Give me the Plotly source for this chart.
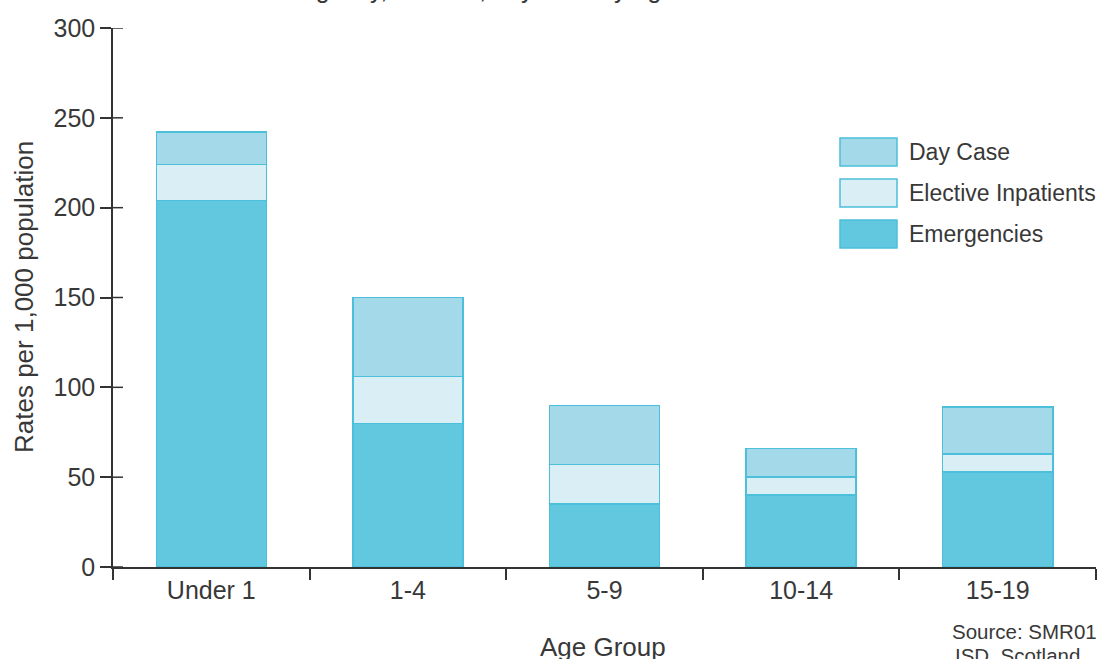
import plotly.graph_objects as go

categories = ["Under 1", "1-4", "5-9", "10-14", "15-19"]
emergencies = [204, 80, 35, 40, 53]
elective = [20, 26, 22, 10, 10]
day_case = [18, 44, 33, 16, 26]
series_names = ["Day Case", "Elective Inpatients", "Emergencies"]
y_ticks = [0, 50, 100, 150, 200, 250, 300]

W, H = 1099, 659
L, R, T, B = 113, 3, 28, 92
PW, PH = W - L - R, H - T - B

def px(x):
    return (x - L) / PW

def py(y):
    return (H - B - y) / PH

C_EM = "#62c8df"
C_EL = "#d9eff5"
C_DC = "#a3d9e8"
C_LINE = "#4cbfda"
TXT = "#383838"
FONT = "Liberation Sans"

fig = go.Figure()
for name, vals, col in [("Emergencies", emergencies, C_EM),
                        ("Elective Inpatients", elective, C_EL),
                        ("Day Case", day_case, C_DC)]:
    fig.add_trace(go.Bar(x=categories, y=vals, name=name, width=0.56,
                         marker=dict(color=col, line=dict(color=C_LINE, width=1.5)),
                         showlegend=False))

fig.update_layout(
    width=W, height=H, barmode="stack",
    margin=dict(l=L, r=R, t=T, b=B, pad=0),
    plot_bgcolor="white", paper_bgcolor="white",
    font=dict(family=FONT, color=TXT, size=25),
    xaxis=dict(type="category", tickson="boundaries", ticks="outside", ticklen=11,
               tickcolor="#333", tickwidth=1.5, showline=True, linecolor="#333",
               linewidth=1.5, showgrid=False, tickfont=dict(size=25, color=TXT),
               range=[-0.5, 4.5]),
    yaxis=dict(range=[0, 300], tickvals=y_ticks, ticks="outside", ticklen=11,
               tickcolor="#333", tickwidth=1.5, showline=True, linecolor="#333",
               linewidth=1.5, showgrid=False, zeroline=False,
               tickfont=dict(size=25, color=TXT)),
)

# right half of crossing y ticks
for v in y_ticks:
    fig.add_shape(type="line", xref="paper", yref="y", x0=0, x1=px(123), y0=v, y1=v,
                  line=dict(color="#333", width=1.5))

# custom legend
legend_colors = {"Day Case": C_DC, "Elective Inpatients": C_EL, "Emergencies": C_EM}
for i, name in enumerate(series_names):
    cy = 152 + 41 * i
    fig.add_shape(type="rect", xref="paper", yref="paper",
                  x0=px(840), x1=px(897), y0=py(cy - 14), y1=py(cy + 14),
                  fillcolor=legend_colors[name], line=dict(color=C_LINE, width=1.5))
    fig.add_annotation(xref="paper", yref="paper", x=px(907), y=py(cy), text=name,
                       showarrow=False, xanchor="left", yanchor="middle",
                       font=dict(size=23, color=TXT))

# axis titles
fig.add_annotation(xref="paper", yref="paper", x=px(603), y=py(647), text="Age Group",
                   showarrow=False, xanchor="center", yanchor="middle",
                   font=dict(size=26, color=TXT))
fig.add_annotation(xref="paper", yref="paper", x=px(24), y=py(297),
                   text="Rates per 1,000 population", textangle=-90,
                   showarrow=False, xanchor="center", yanchor="middle",
                   font=dict(size=26, color=TXT))

# source
fig.add_annotation(xref="paper", yref="paper", x=px(1099), y=py(631), text="Source: SMR01",
                   showarrow=False, xanchor="right", yanchor="middle",
                   font=dict(size=20.5, color=TXT))
fig.add_annotation(xref="paper", yref="paper", x=px(953), y=py(656), text="ISD, Scotland",
                   showarrow=False, xanchor="left", yanchor="middle",
                   font=dict(size=20.5, color=TXT))

# clipped title
fig.add_annotation(xref="paper", yref="paper", x=px(465), y=py(-11),
                   text="Emergency, elective, day case by age",
                   showarrow=False, xanchor="center", yanchor="middle",
                   font=dict(size=25, color=TXT))

fig.write_html("out.html")
